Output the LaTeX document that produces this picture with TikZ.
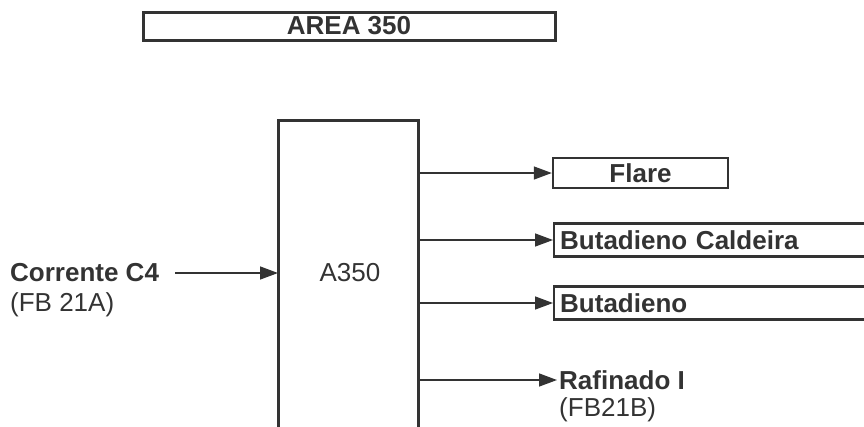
\documentclass[tikz,border=0pt]{standalone}
\usepackage{fontspec}
\setmainfont{Liberation Sans}
\usetikzlibrary{arrows.meta}
\definecolor{ink}{gray}{0.2}
\begin{document}
\begin{tikzpicture}[x=1pt,y=-1pt,
  every node/.style={text=ink, font=\fontsize{26}{30}\selectfont},
  boxline/.style={draw=ink, line width=3pt},
  outbox/.style={draw=ink, line width=2.4pt, minimum height=33pt},
  arr/.style={draw=ink, line width=1.4pt, -{Triangle[length=18pt,width=13pt]}},
  lbl/.style={font=\fontsize{26}{30}\selectfont\bfseries, inner sep=0pt},
  sub/.style={font=\fontsize{26}{30}\selectfont, inner sep=0pt}]
\clip (0,0) rectangle (864,426);
\useasboundingbox (0,0) rectangle (864,426);

% title
\node[boxline, lbl, minimum width=412pt, minimum height=28pt] (title) at (349,26) {AREA 350};

% main unit (open at bottom)
\draw[boxline] (278,432) -- (278,120) -- (418,120) -- (418,432);
\node[sub] (unit) at (350,273) {A350};
\coordinate (in) at (278,273);
\coordinate (o1) at (418,173);
\coordinate (o2) at (418,240);
\coordinate (o3) at (418,303);
\coordinate (o4) at (418,380);

% input
\node[lbl, anchor=west] (corr) at (10,273) {Corrente C4};
\node[sub, anchor=west] (fba) at (10,305) {(FB 21A)};
\draw[arr] ([xshift=16pt]corr.east) -- (in);

% outputs
\node[outbox, lbl, minimum width=175pt, minimum height=30pt] (flare) at (640.5,173) {Flare};
\node[outbox, lbl, anchor=west, text width=324pt, align=left, inner xsep=6pt] (cald) at (553,240) {Butadieno Caldeira};
\node[outbox, lbl, anchor=west, text width=324pt, align=left, inner xsep=6pt] (buta) at (553,303) {Butadieno};
\node[lbl, anchor=west] (raf) at (559,380) {Rafinado I};
\node[sub, anchor=west] (fbb) at (559,410) {(FB21B)};

\draw[arr] (o1) -- (flare.west);
\draw[arr] (o2) -- (cald.west);
\draw[arr] (o3) -- (buta.west);
\draw[arr] (o4) -- ([xshift=-2pt]raf.west);
\end{tikzpicture}
\end{document}
